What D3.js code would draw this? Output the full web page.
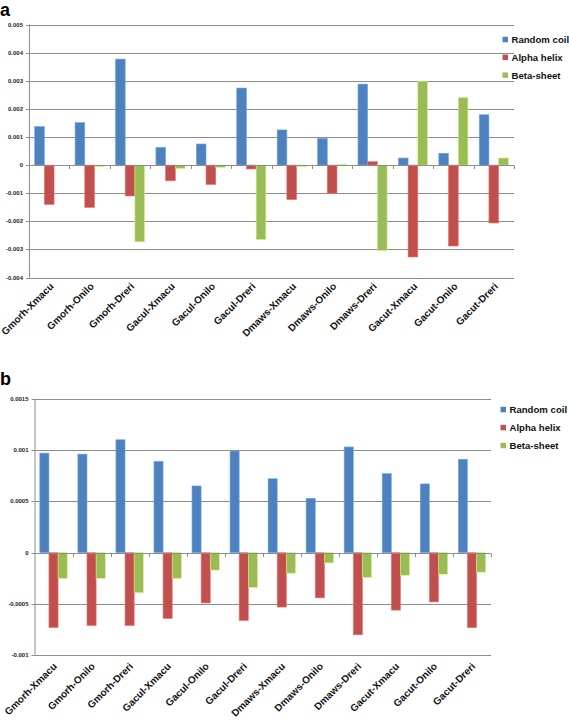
<!DOCTYPE html>
<html>
<head>
<meta charset="utf-8">
<script src="https://cdn.jsdelivr.net/npm/d3@7"></script>
<style>
  html, body { margin: 0; padding: 0; background: #fff; }
  svg { display: block; font-family: "Liberation Sans", Arial, sans-serif; }
</style>
</head>
<body>
<svg id="chart" width="569" height="720"></svg>
<script>
const categories = ["Gmorh-Xmacu","Gmorh-Onilo","Gmorh-Dreri","Gacul-Xmacu","Gacul-Onilo","Gacul-Dreri",
                    "Dmaws-Xmacu","Dmaws-Onilo","Dmaws-Dreri","Gacut-Xmacu","Gacut-Onilo","Gacut-Dreri"];
const seriesNames = ["Random coil","Alpha helix","Beta-sheet"];
const seriesColors = ["#4F81BD","#C0504D","#9BBB59"];

// Panel a
const aRandomCoil = [0.00137,0.00151,0.00377,0.00063,0.00075,0.00274,0.00125,0.00095,0.00288,0.00025,0.00042,0.00179];
const aAlphaHelix = [-0.00140,-0.00151,-0.00110,-0.00056,-0.00069,-0.00014,-0.00123,-0.00101,0.00012,-0.00327,-0.00288,-0.00206];
const aBetaSheet  = [0,-0.00005,-0.00273,-0.00012,-0.00008,-0.00265,-0.00005,0.00002,-0.00304,0.00298,0.00240,0.00025];
const aTicks = [0.005,0.004,0.003,0.002,0.001,0,-0.001,-0.002,-0.003,-0.004];
const aTickLabels = ["0.005","0.004","0.003","0.002","0.001","0","-0.001","-0.002","-0.003","-0.004"];

// Panel b
const bRandomCoil = [0.00097,0.00096,0.00110,0.00089,0.00065,0.00099,0.00072,0.00053,0.00103,0.00077,0.00067,0.00091];
const bAlphaHelix = [-0.00073,-0.00071,-0.00071,-0.00064,-0.00049,-0.00066,-0.00053,-0.00044,-0.00080,-0.00056,-0.00048,-0.00073];
const bBetaSheet  = [-0.00025,-0.00025,-0.00039,-0.00025,-0.00017,-0.00034,-0.00020,-0.00010,-0.00024,-0.00022,-0.00021,-0.00019];
const bTicks = [0.0015,0.001,0.0005,0,-0.0005,-0.001];
const bTickLabels = ["0.0015","0.001","0.0005","0","-0.0005","-0.001"];

const svg = d3.select("#chart");

function panel(cfg) {
  const g = svg.append("g");
  const series = [cfg.s1, cfg.s2, cfg.s3];
  const y = d3.scaleLinear().domain(cfg.domain).range([cfg.bottom, cfg.top]);
  const x0 = d3.scaleBand().domain(categories).range([cfg.left, cfg.right]).padding(0);
  const bw = x0.bandwidth();
  const x1 = d3.scaleBand().domain(seriesNames).range([bw * 0.14, bw * 0.86]).padding(0);

  // panel letter
  g.append("text").attr("x", 0).attr("y", cfg.letterY)
    .attr("font-size", 18).attr("font-weight", "bold").attr("font-family", "Liberation Sans, Arial, sans-serif")
    .text(cfg.letter);

  // gridlines
  g.selectAll("line.grid").data(cfg.ticks).enter().append("line")
    .attr("x1", cfg.left).attr("x2", cfg.right)
    .attr("y1", d => Math.round(y(d)) + 0.5).attr("y2", d => Math.round(y(d)) + 0.5)
    .attr("stroke", "#8c8c8c").attr("stroke-width", 1);

  // y axis line
  g.append("line").attr("x1", cfg.left + 0.5).attr("x2", cfg.left + 0.5)
    .attr("y1", y(cfg.domain[1])).attr("y2", y(cfg.domain[0]))
    .attr("stroke", "#8c8c8c");

  // y tick marks & labels
  cfg.ticks.forEach((t, i) => {
    g.append("line").attr("x1", cfg.left - 3).attr("x2", cfg.left)
      .attr("y1", Math.round(y(t)) + 0.5).attr("y2", Math.round(y(t)) + 0.5).attr("stroke", "#8c8c8c");
    g.append("text").attr("x", cfg.left - 6).attr("y", y(t) + 2)
      .attr("text-anchor", "end").attr("font-size", 6).attr("font-weight", "bold").attr("fill", "#222")
      .text(cfg.tickLabels[i]);
  });

  // bars
  const groups = g.selectAll("g.cat").data(categories).enter().append("g")
    .attr("transform", d => `translate(${x0(d)},0)`);
  groups.selectAll("rect").data((d, i) => series.map((s, k) => ({k, v: s[i]}))).enter().append("rect")
    .attr("x", d => x1(seriesNames[d.k]))
    .attr("width", x1.bandwidth())
    .attr("y", d => Math.min(y(d.v), y(0)))
    .attr("height", d => Math.abs(y(d.v) - y(0)))
    .attr("fill", d => seriesColors[d.k])
    .attr("stroke", d => d3.color(seriesColors[d.k]).brighter(0.8))
    .attr("stroke-width", 0.6);

  // category axis (zero line) with boundary ticks
  const zy = Math.round(y(0)) + 0.5;
  g.append("line").attr("x1", cfg.left).attr("x2", cfg.right).attr("y1", zy).attr("y2", zy)
    .attr("stroke", "#8c8c8c");
  categories.forEach((c, i) => {
    const bx = Math.round(x0(c) + bw) + 0.5;
    g.append("line").attr("x1", bx).attr("x2", bx).attr("y1", zy).attr("y2", zy + 3.5).attr("stroke", "#8c8c8c");
  });

  // category labels
  categories.forEach(c => {
    const cx = x0(c) + bw / 2 + cfg.labelDx;
    g.append("text").attr("transform", `translate(${cx},${cfg.labelY}) rotate(-45)`)
      .attr("text-anchor", "end").attr("font-size", 10).attr("font-weight", "bold").attr("fill", "#111")
      .text(c);
  });

  // legend
  seriesNames.forEach((s, k) => {
    const ly = cfg.legendY + k * cfg.legendStep;
    g.append("rect").attr("x", cfg.legendX).attr("y", ly - 2.7).attr("width", 5.5).attr("height", 5.5)
      .attr("fill", seriesColors[k]);
    g.append("text").attr("x", cfg.legendX + 9).attr("y", ly + 3.4)
      .attr("font-size", 9.6).attr("font-weight", "bold").attr("fill", "#111").text(s);
  });
}

panel({
  letter: "a", letterY: 16,
  s1: aRandomCoil, s2: aAlphaHelix, s3: aBetaSheet,
  domain: [-0.004, 0.005], top: 24.5, bottom: 277.5,
  left: 29, right: 514,
  ticks: aTicks, tickLabels: aTickLabels,
  labelY: 287, labelDx: 5,
  legendX: 502.5, legendY: 39.5, legendStep: 17.8
});

panel({
  letter: "b", letterY: 385,
  s1: bRandomCoil, s2: bAlphaHelix, s3: bBetaSheet,
  domain: [-0.001, 0.0015], top: 398.7, bottom: 655.3,
  left: 34.5, right: 491,
  ticks: bTicks, tickLabels: bTickLabels,
  labelY: 667, labelDx: 4,
  legendX: 500.5, legendY: 409.5, legendStep: 18
});
</script>
</body>
</html>
